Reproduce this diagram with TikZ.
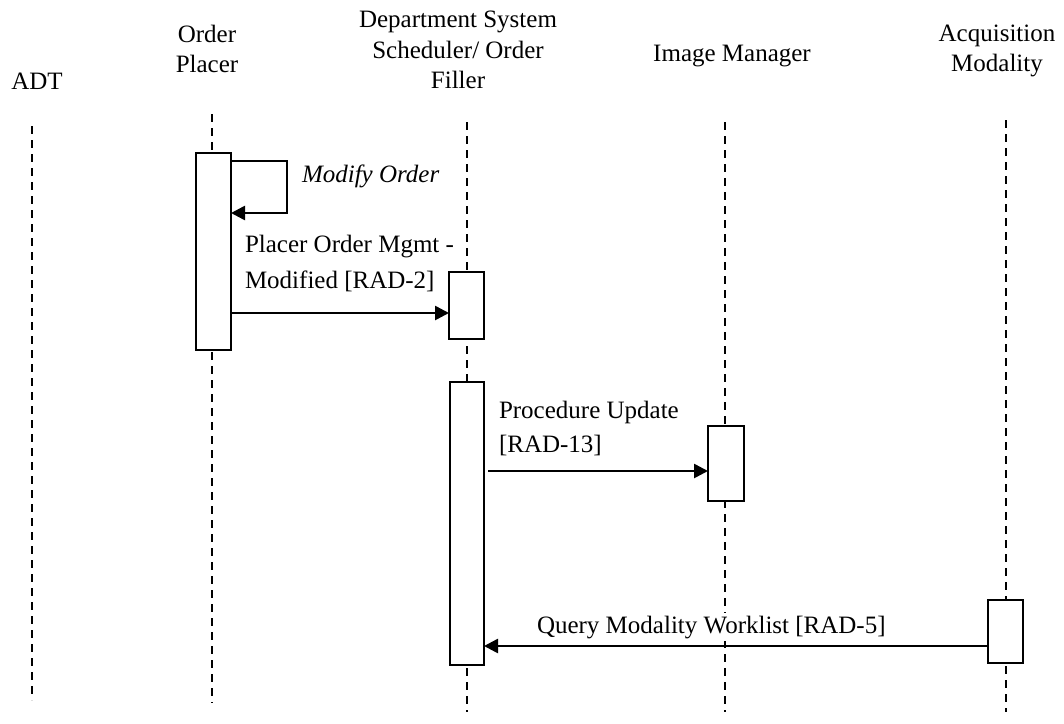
\documentclass[tikz,border=0pt]{standalone}
\usepackage{fontspec}
\setmainfont{Liberation Serif}
\usetikzlibrary{arrows.meta}
\begin{document}
\begin{tikzpicture}[x=1pt,y=-1pt,
  hdr/.style={font=\fontsize{25}{30.5}\selectfont, inner sep=0pt, outer sep=0pt, align=center, anchor=north},
  lbl/.style={font=\fontsize{25}{36}\selectfont, inner sep=0pt, outer sep=0pt, align=left, anchor=north west},
  txt/.style={font=\fontsize{25}{30}\selectfont, inner sep=0pt, outer sep=0pt, anchor=base west},
  life/.style={line width=1.6pt, dash pattern=on 8pt off 6pt},
  act/.style={draw, fill=white, line width=2pt, inner sep=0pt, outer sep=0pt, anchor=north west, minimum width=35pt},
  msg/.style={line width=2.6pt, -{Triangle[length=14pt,width=14pt]}}]
\fill[white] (0,0) rectangle (1064,723);
\useasboundingbox (0,0) rectangle (1064,723);

% headers
\node[hdr] (hADT) at (37,72.5) {ADT};
\node[hdr] (hOP) at (207,24.9) {Order\\Placer};
\node[hdr] (hDSS) at (458,11) {Department System\\Scheduler/ Order\\Filler};
\node[hdr] (hIM) at (732,45.5) {Image Manager};
\node[hdr] (hAM) at (997,24.9) {Acquisition\\Modality};

% lifelines
\coordinate (adtT) at (32,126);  \coordinate (adtB) at (32,700);
\coordinate (opT) at (212,114);  \coordinate (opB) at (212,703);
\coordinate (dsT) at (467,122);  \coordinate (dsB) at (467,712);
\coordinate (imT) at (725,122);  \coordinate (imB) at (725,712);
\coordinate (amT) at (1006,120); \coordinate (amB) at (1006,712);
\draw[life] (adtT) -- (adtB);
\draw[life] (opT) -- (opB);
\draw[life] (dsT) -- (dsB);
\draw[life] (imT) -- (imB);
\draw[life] (amT) -- (amB);

% activation boxes
\node[act, minimum height=197pt] (opA) at (196,153) {};
\node[act, minimum height=67pt] (dsA1) at (449,272) {};
\node[act, minimum height=283pt, minimum width=34pt] (dsA2) at (450,382) {};
\node[act, minimum height=75pt, minimum width=36pt] (imA) at (708,426) {};
\node[act, minimum height=63pt, minimum width=35pt] (amA) at (988,600) {};

% messages
\coordinate (s1) at (0,161); \coordinate (s2) at (287,161);
\coordinate (s3) at (287,213); \coordinate (s4) at (0,213);
\draw[msg] (opA.east |- s1) -- (s2) -- (s3) -- (opA.east |- s4);

\coordinate (y1) at (0,313);
\draw[msg] (opA.east |- y1) -- (dsA1.west |- y1);

\coordinate (y2) at (0,471);
\draw[msg] ([xshift=4pt]dsA2.east |- y2) -- (imA.west |- y2);

\coordinate (y3) at (0,646);
\draw[msg] (amA.west |- y3) -- (dsA2.east |- y3);

% labels
\node[txt, font=\fontsize{25}{30}\selectfont\itshape] (lMod) at (302,182) {Modify Order};
\node[lbl] (lPO) at (245,234.9) {Placer Order Mgmt -\\{}Modified [RAD-2]};
\node[lbl, font=\fontsize{25}{34}\selectfont] (lPU) at (499,400.9) {Procedure Update\\{}[RAD-13]};
\node[txt, fill=white, inner ysep=3pt, inner xsep=1pt] (lQ) at (536,633) {Query Modality Worklist [RAD-5]};
\end{tikzpicture}
\end{document}
